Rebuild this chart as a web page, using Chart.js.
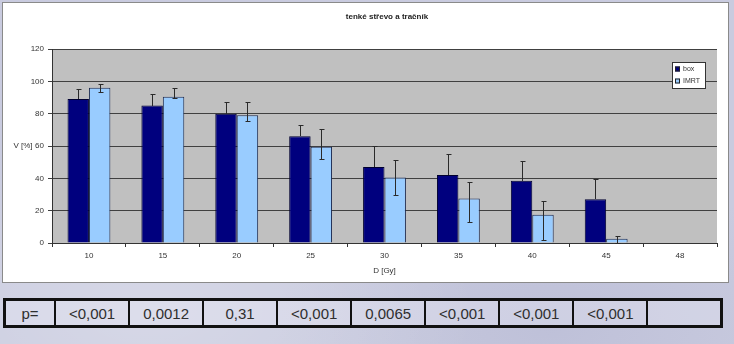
<!DOCTYPE html>
<html>
<head>
<meta charset="utf-8">
<script src="https://cdn.jsdelivr.net/npm/chart.js@4/dist/chart.umd.min.js"></script>
<style>
  html, body { margin: 0; padding: 0; }
  body {
    width: 734px; height: 344px; overflow: hidden; position: relative;
    background: #c9cbdf;
    background-image:
      radial-gradient(ellipse at 20% 90%, rgba(255,255,255,0.25), rgba(255,255,255,0) 40%),
      radial-gradient(ellipse at 75% 95%, rgba(180,182,210,0.5), rgba(180,182,210,0) 35%);
    font-family: "Liberation Sans", Arial, sans-serif;
  }
  #box {
    position: absolute; left: 2px; top: 2px; width: 727px; height: 281px;
    box-sizing: border-box; border: 1px solid #8a8a8a; background: #fff;
  }
  #box canvas { position: absolute; left: 0; top: 0; }
  #ptab {
    position: absolute; left: 3px; top: 298px; width: 720px; height: 28px;
    border-collapse: collapse; border: 3px solid #111; table-layout: fixed;
  }
  #ptab td {
    border: 2px solid #111; background: rgba(230,231,242,0.4);
    text-align: center; font-size: 15px; color: #2e2e2e; padding: 0; height: 24px;
  }
</style>
</head>
<body>
<div id="box"><canvas id="myChart" width="725" height="279"></canvas></div>
<table id="ptab"><tr id="prow"></tr></table>
<script>
(() => {
  'use strict';

  const doses = ['10', '15', '20', '25', '30', '35', '40', '45', '48'];
  const seriesNames = ['box', 'IMRT'];
  const boxValues = [89, 85, 80, 66, 47, 42, 38.5, 27, null];
  const boxErrUp = [6, 7, 7.5, 7, 13, 13, 12.5, 12.5, null];
  const boxErrDown = [0, 0, 0, 0, 0, 0, 0, 0, null];
  const imrtValues = [96, 90.5, 79, 59.5, 40.5, 27.5, 17.5, 2.7, null];
  const imrtErrUp = [2.5, 5.5, 8, 11, 11, 10, 8.5, 1.8, null];
  const imrtErrDown = [2.5, 1, 3.5, 7.5, 11, 14.5, 15.8, 2.7, null];
  const pLabel = 'p=';
  const pValues = ['<0,001', '0,0012', '0,31', '<0,001', '0,0065', '<0,001', '<0,001', '<0,001', ''];
  const yTicks = [0, 20, 40, 60, 80, 100, 120];

  const FONT = '"Liberation Sans", Arial, sans-serif';
  const NAVY = '#00007e';
  const LIGHT = '#99ccff';

  // p-value table under the chart
  const row = document.getElementById('prow');
  const first = document.createElement('td');
  first.style.width = '48px';
  first.textContent = pLabel;
  row.appendChild(first);
  pValues.forEach(v => {
    const td = document.createElement('td');
    td.textContent = v;
    row.appendChild(td);
  });

  const plotBackground = {
    id: 'plotBackground',
    beforeDraw(chart) {
      const {ctx, chartArea: a} = chart;
      ctx.save();
      ctx.fillStyle = '#c0c0c0';
      ctx.fillRect(a.left, a.top, a.right - a.left, a.bottom - a.top);
      ctx.restore();
    }
  };

  const errorBars = {
    id: 'errorBars',
    afterDatasetsDraw(chart) {
      const ctx = chart.ctx;
      const y = chart.scales.y;
      ctx.save();
      ctx.strokeStyle = '#2a2a2a';
      ctx.lineWidth = 1;
      chart.data.datasets.forEach((ds, di) => {
        const meta = chart.getDatasetMeta(di);
        meta.data.forEach((bar, i) => {
          const v = ds.data[i];
          if (v == null) return;
          const x = Math.round(bar.x) + 0.5;
          const top = Math.round(y.getPixelForValue(v + ds.errUp[i])) + 0.5;
          ctx.beginPath();
          ctx.moveTo(x - 2, top);
          ctx.lineTo(x + 3, top);
          ctx.moveTo(x, top);
          if (ds.errDown[i] > 0) {
            const bot = Math.round(y.getPixelForValue(Math.max(0, v - ds.errDown[i]))) + 0.5;
            ctx.lineTo(x, bot);
            ctx.moveTo(x - 2, bot);
            ctx.lineTo(x + 3, bot);
          } else {
            ctx.lineTo(x, Math.round(y.getPixelForValue(v)));
          }
          ctx.stroke();
        });
      });
      ctx.restore();
    }
  };

  const annotations = {
    id: 'annotations',
    afterDraw(chart) {
      const ctx = chart.ctx;
      const a = chart.chartArea;
      ctx.save();
      ctx.fillStyle = '#222';
      ctx.textAlign = 'center';
      ctx.textBaseline = 'middle';
      ctx.font = 'bold 8px ' + FONT;
      ctx.fillText('tenké střevo a tračník', 384, 14);

      ctx.font = '8px ' + FONT;
      ctx.fillStyle = '#333';
      ctx.fillText('D [Gy]', (a.left + a.right) / 2, 268);
      ctx.fillText('V [%]', 20, chart.scales.y.getPixelForValue(60));

      // legend box
      const lx = 669, ly = 59, lw = 33, lh = 26;
      ctx.fillStyle = '#fff';
      ctx.fillRect(lx, ly, lw, lh);
      ctx.strokeStyle = '#333';
      ctx.lineWidth = 1;
      ctx.strokeRect(lx + 0.5, ly + 0.5, lw, lh);
      ctx.font = '7px ' + FONT;
      const fills = [NAVY, LIGHT];
      seriesNames.forEach((name, i) => {
        const cy = ly + 7 + i * 12;
        ctx.fillStyle = fills[i];
        ctx.fillRect(lx + 3, cy - 2.5, 5, 5);
        ctx.strokeStyle = '#222';
        ctx.strokeRect(lx + 3.5, cy - 2, 4, 4);
        ctx.fillStyle = '#333';
        ctx.textAlign = 'left';
        ctx.fillText(name, lx + 11, cy + 0.5);
      });
      ctx.restore();
    }
  };

  const ctx = document.getElementById('myChart').getContext('2d');
  new Chart(ctx, {
    type: 'bar',
    data: {
      labels: doses,
      datasets: [{
        label: seriesNames[0],
        data: boxValues,
        errUp: boxErrUp,
        errDown: boxErrDown,
        backgroundColor: NAVY,
        borderColor: '#000030',
        borderWidth: 1
      }, {
        label: seriesNames[1],
        data: imrtValues,
        errUp: imrtErrUp,
        errDown: imrtErrDown,
        backgroundColor: LIGHT,
        borderColor: '#1c2a50',
        borderWidth: 1
      }]
    },
    options: {
      responsive: false,
      animation: false,
      devicePixelRatio: 1,
      layout: {padding: {left: 0, top: 46, right: 11, bottom: 0}},
      datasets: {bar: {categoryPercentage: 0.58, barPercentage: 1}},
      plugins: {
        legend: {display: false},
        tooltip: {enabled: false}
      },
      scales: {
        x: {
          offset: true,
          grid: {offset: true, drawOnChartArea: false, drawTicks: true, tickLength: 4, color: '#333'},
          border: {color: '#333'},
          ticks: {color: '#333', font: {family: FONT, size: 8}, padding: 4},
          afterFit: s => { s.height = 39; }
        },
        y: {
          min: 0,
          max: 120,
          afterBuildTicks: s => { s.ticks = yTicks.map(v => ({value: v})); },
          grid: {color: '#404040', tickLength: 4, lineWidth: 1},
          border: {color: '#333'},
          ticks: {color: '#333', font: {family: FONT, size: 8}, padding: 4},
          afterFit: s => { s.width = 49; }
        }
      }
    },
    plugins: [plotBackground, errorBars, annotations]
  });
})();
</script>
</body>
</html>
